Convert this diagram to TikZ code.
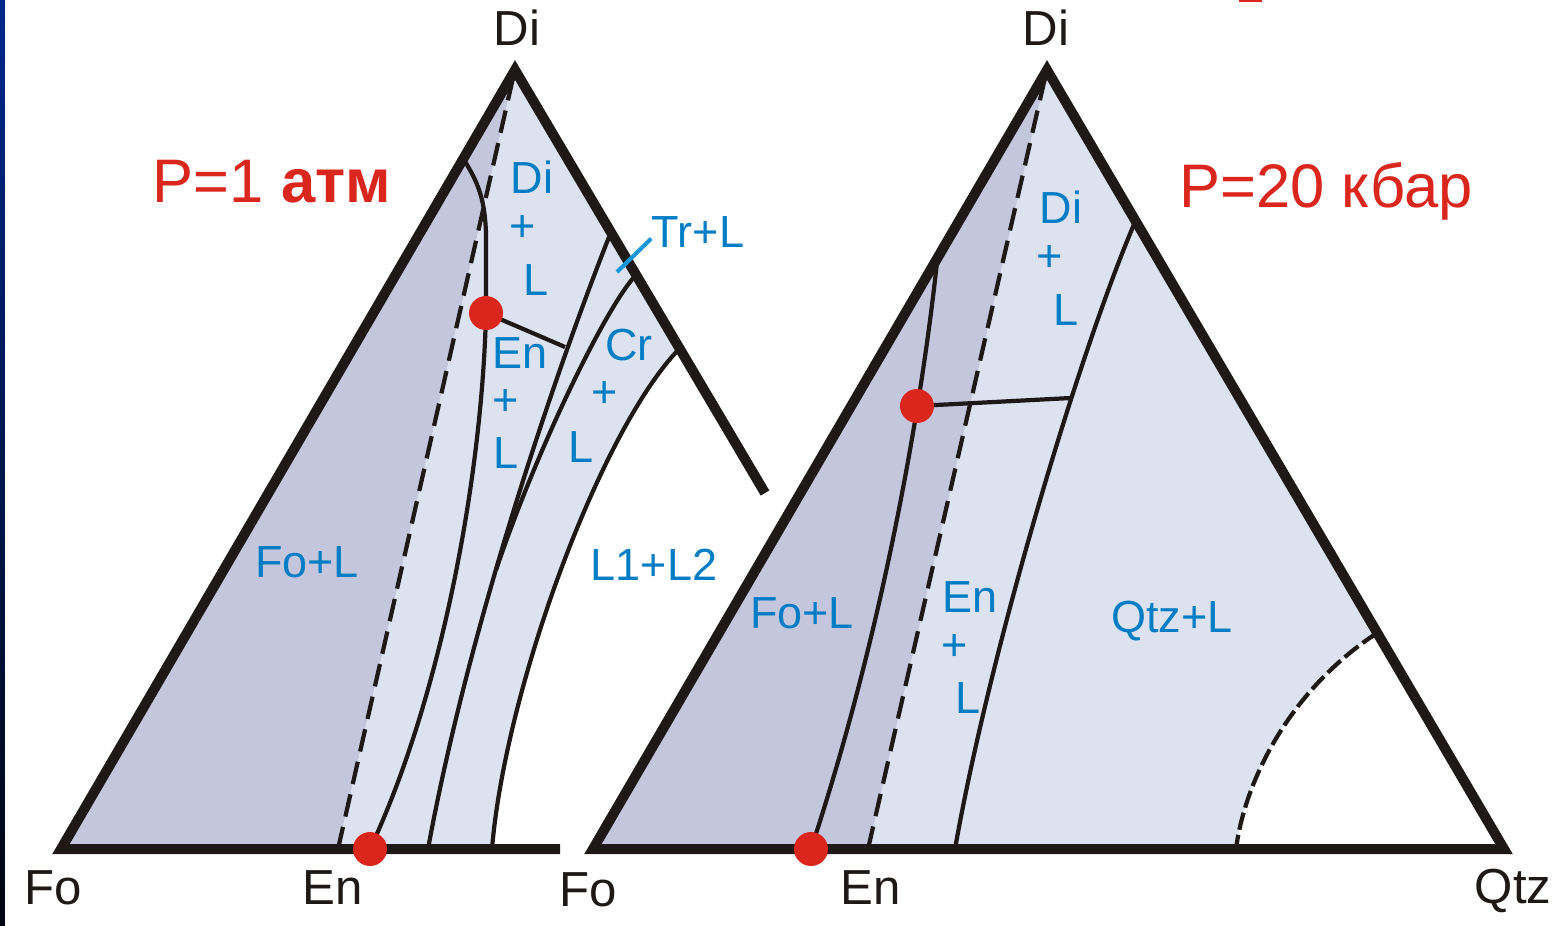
\documentclass[tikz,border=0pt]{standalone}
\usepackage{fontspec}
\setmainfont{Liberation Sans}
\usepackage{xcolor}
\usepackage{tikz}
\definecolor{fodark}{RGB}{196,198,221}
\definecolor{fillight}{RGB}{220,226,239}
\definecolor{phaseblue}{RGB}{0,125,196}
\definecolor{leaderblue}{RGB}{20,150,220}
\definecolor{ptred}{RGB}{218,38,29}
\definecolor{inkblack}{RGB}{30,25,22}
\definecolor{bartop}{RGB}{0,40,140}
\definecolor{barbot}{RGB}{0,5,16}

\begin{document}
\begin{tikzpicture}[x=0.1mm, y=-0.1mm,
    side/.style={draw=inkblack, line width=2.85pt},
    bnd/.style={draw=inkblack, line width=1.2pt},
    joinline/.style={draw=inkblack, line width=1.2pt, dash pattern=on 6.5pt off 3pt},
    immisc/.style={draw=inkblack, line width=1.2pt, dash pattern=on 5pt off 1.5pt},
    phase/.style={text=phaseblue, font=\fontsize{12.8}{14}\selectfont, inner sep=0pt, anchor=base},
    apex/.style={text=inkblack, font=\fontsize{14}{16}\selectfont, inner sep=0pt, anchor=base},
    press/.style={text=ptred, font=\fontsize{17.5}{20}\selectfont, inner sep=0pt, anchor=base},
    eutdot/.style={fill=ptred, circle, inner sep=0pt, minimum size=3.4mm},
    leader/.style={draw=leaderblue, line width=1.15pt}]
            \useasboundingbox (0,0) rectangle (1565,925);
            \shade[top color=bartop, bottom color=barbot] (0,0) rectangle (5,925);
            \fill[ptred] (1239,0) rectangle (1262,2);

            % P = 1 atm
            \coordinate (FoA) at (61,849);
            \coordinate (DiA) at (515,70);
            \coordinate (EnA) at (338,849);
            \fill[fodark] (FoA) -- (DiA) -- (EnA) -- cycle;
            \fill[fillight] (EnA) -- (DiA) -- (680,348) .. controls (600,430) and (505,690) .. (492,849) -- cycle;

            \draw[bnd] (464,160) .. controls (480,185) and (487,205) .. (486,250) -- (486,313) .. controls (482,480) and (440,700) .. (370,849);
            \draw[bnd] (486,313) -- (565,347);
            \draw[bnd] (611,232) .. controls (560,360) and (470,620) .. (428,849);
            \draw[bnd] (637,274) .. controls (610,300) and (540,440) .. (496,570);
            \draw[bnd] (680,348) .. controls (600,430) and (505,690) .. (492,849);
            \draw[joinline] (513,78) -- (EnA);
            \draw[side] (560,849) -- (FoA) -- (DiA) -- (765,493);

            \node[eutdot] (perA) at (486,313) {};
            \node[eutdot] (enbA) at (370,849) {};

            \node[apex] (diA) at (517,45) {Di};
            \node[apex] (foA) at (53,904) {Fo};
            \node[apex] (enA) at (333,904) {En};
            \node[press] (pA) at (272,202) {P=1 \textbf{атм}};

            \node[phase] (diLa) at (532,193) {Di};
            \node[phase] (diLb) at (523,241) {+};
            \node[phase] (diLc) at (536,295) {L};
            \node[phase] (enLa) at (520,368) {En};
            \node[phase] (enLb) at (506,415) {+};
            \node[phase] (enLc) at (506,468) {L};
            \node[phase] (crLa) at (629,360) {Cr};
            \node[phase] (crLb) at (605,407) {+};
            \node[phase] (crLc) at (581,462) {L};
            \node[phase] (foLA) at (307,577) {Fo+L};
            \node[phase] (llA) at (654,580) {L1+L2};
            \node[phase] (trL) at (698,247) {Tr+L};
            \coordinate (trtip) at (617,272);
            \draw[leader] (trtip) -- ([yshift=-2pt]trL.west);

            % P = 20 kbar
            \coordinate (FoB) at (593,849);
            \coordinate (DiB) at (1047,70);
            \coordinate (QtzB) at (1504,849);
            \coordinate (EnB) at (868,849);
            \fill[fillight] (FoB) -- (DiB) -- (QtzB) -- cycle;
            \fill[fodark] (FoB) -- (DiB) -- (EnB) -- cycle;
            \fill[white] (1377,633) .. controls (1290,690) and (1245,780) .. (1236,849) -- (QtzB) -- cycle;

            \draw[bnd] (937,262) .. controls (920,420) and (880,640) .. (811,849);
            \draw[bnd] (917,406) -- (1071,398);
            \draw[bnd] (1135,222) .. controls (1080,350) and (990,650) .. (955,849);
            \draw[immisc] (1377,633) .. controls (1290,690) and (1245,780) .. (1236,849);
            \draw[joinline] (1045,78) -- (EnB);
            \draw[side] (FoB) -- (DiB) -- (QtzB) -- cycle;

            \node[eutdot] (perB) at (917,406) {};
            \node[eutdot] (enbB) at (811,849) {};

            \node[apex] (diB) at (1046,45) {Di};
            \node[apex] (foB) at (588,906) {Fo};
            \node[apex] (enB) at (871,904) {En};
            \node[apex] (qtzB) at (1513,903) {Qtz};
            \node[press] (pB) at (1326,207) {P=20 кбар};

            \node[phase] (diLd) at (1061,223) {Di};
            \node[phase] (diLe) at (1050,271) {+};
            \node[phase] (diLf) at (1066,325) {L};
            \node[phase] (foLB) at (802,628) {Fo+L};
            \node[phase] (enLd) at (970,612) {En};
            \node[phase] (enLe) at (955,660) {+};
            \node[phase] (enLf) at (968,713) {L};
            \node[phase] (qtzL) at (1172,632) {Qtz+L};
\end{tikzpicture}
\end{document}
